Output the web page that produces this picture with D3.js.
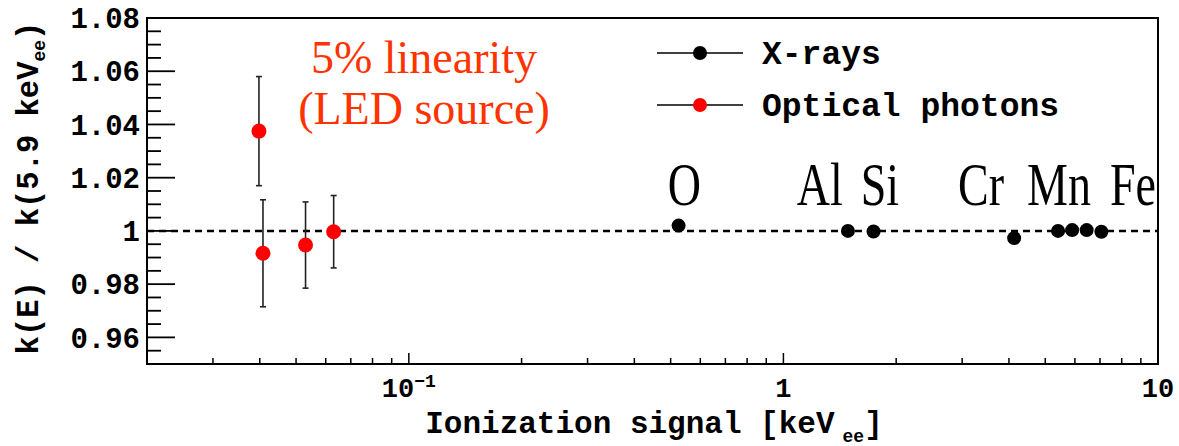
<!DOCTYPE html>
<html lang="en">
<head>
	<meta charset="UTF-8">
	<title>k(E) linearity</title>

	<script src="https://cdn.jsdelivr.net/npm/d3@7"></script>

	<style>
		body {
			margin: 0;
			background: #fff;
		}

		.mono {
			font-family: "Courier New", "Nimbus Mono PS", "FreeMono", "Liberation Mono", monospace;
			font-weight: bold;
		}

		.elem {
			font-family: "Liberation Serif", "DejaVu Serif", serif;
		}

		.note {
			font-family: "Liberation Serif", "DejaVu Serif", serif;
			fill: #ff3300;
		}
	</style>

</head>
<body>

<script type="text/javascript">

	// X-ray lines (black)
	var xrayEnergy = [0.525, 1.487, 1.74, 4.13, 5.41, 5.90, 6.45, 7.06];
	var xrayRatio = [1.002, 1.0, 0.9998, 0.9973, 1.0, 1.0003, 1.0003, 0.9997];

	// LED optical photons (red)
	var ledEnergy = [0.0398, 0.0408, 0.053, 0.063];
	var ledRatio = [1.0375, 0.9916, 0.9947, 0.9997];
	var ledError = [0.0205, 0.0201, 0.0162, 0.0136];

	var elementNames = ['O', 'Al', 'Si', 'Cr', 'Mn', 'Fe'];
	var elementAt = [0.544, 1.25, 1.81, 3.37, 5.44, 8.57];

	var yTicks = [0.96, 0.98, 1, 1.02, 1.04, 1.06, 1.08];
	var xTicks = [0.1, 1, 10];
	var legendNames = ['X-rays', 'Optical photons'];
	var legendColors = ['#000', '#ff0000'];

	var W = 1179, H = 446;
	var margin = {top: 18, bottom: 82, left: 147, right: 21};

	var width = W - margin.left - margin.right;
	var height = H - margin.top - margin.bottom;

	var svg = d3.select('body').append('svg')
		.attr('width', W)
		.attr('height', H)
		.append('g')
		.attr('transform', 'translate(' + margin.left + ',' + margin.top + ')');

	var x = d3.scaleLog()
		.domain([0.02, 10])
		.range([0, width]);

	var y = d3.scaleLinear()
		.domain([0.95, 1.08])
		.range([height, 0]);

	// minor / major ticks
	var yMinor = d3.range(0.955, 1.08, 0.005).filter(function (v) {
		return Math.abs(Math.round(v * 50) - v * 50) > 0.01;
	});
	svg.append('g').selectAll('line.ymin')
		.data(yMinor)
		.enter().append('line')
		.attr('x1', 0).attr('x2', 14)
		.attr('y1', function (d) { return y(d); })
		.attr('y2', function (d) { return y(d); })
		.attr('stroke', '#000').attr('stroke-width', 1.8);

	svg.append('g').selectAll('line.ymaj')
		.data(yTicks)
		.enter().append('line')
		.attr('x1', 0).attr('x2', 28)
		.attr('y1', function (d) { return y(d); })
		.attr('y2', function (d) { return y(d); })
		.attr('stroke', '#000').attr('stroke-width', 1.8);

	var xMinor = [];
	[0.01, 0.1, 1].forEach(function (dec) {
		for (var k = 2; k <= 9; k++) {
			var v = dec * k;
			if (v > 0.02 && v < 10) xMinor.push(v);
		}
	});
	svg.append('g').selectAll('line.xmin')
		.data(xMinor)
		.enter().append('line')
		.attr('x1', function (d) { return x(d); })
		.attr('x2', function (d) { return x(d); })
		.attr('y1', height).attr('y2', height - 6)
		.attr('stroke', '#000').attr('stroke-width', 1.5);

	svg.append('g').selectAll('line.xmaj')
		.data(xTicks)
		.enter().append('line')
		.attr('x1', function (d) { return x(d); })
		.attr('x2', function (d) { return x(d); })
		.attr('y1', height).attr('y2', height - 11)
		.attr('stroke', '#000').attr('stroke-width', 1.5);

	// frame
	svg.append('rect')
		.attr('width', width)
		.attr('height', height)
		.attr('fill', 'none')
		.attr('stroke', '#000')
		.attr('stroke-width', 2);

	// tick labels
	svg.append('g').selectAll('text')
		.data(yTicks)
		.enter().append('text')
		.attr('class', 'mono')
		.attr('x', -7)
		.attr('y', function (d) { return y(d); })
		.attr('dy', '0.35em')
		.attr('text-anchor', 'end')
		.style('font-size', '29px')
		.text(function (d) { return d === 1 ? '1' : d3.format('.2f')(d); });

	var xl = svg.append('g').selectAll('text')
		.data(xTicks)
		.enter().append('text')
		.attr('class', 'mono')
		.attr('x', function (d) { return x(d); })
		.attr('y', 397 - margin.top)
		.attr('text-anchor', 'middle')
		.style('font-size', '27px');
	xl.each(function (d) {
		var t = d3.select(this);
		if (d === 0.1) {
			t.append('tspan').text('10');
			t.append('tspan').attr('dy', -10).style('font-size', '18px').text('\u22121');
		} else {
			t.text(d3.format('d')(d));
		}
	});

	// axis titles
	var xt = svg.append('text')
		.attr('class', 'mono')
		.attr('x', 654 - margin.left)
		.attr('y', 433 - margin.top)
		.attr('text-anchor', 'middle')
		.style('font-size', '31px');
	xt.append('tspan').text('Ionization signal [keV');
	xt.append('tspan').attr('dx', 8).attr('dy', 9).style('font-size', '18px').text('ee');
	xt.append('tspan').attr('dy', -9).text(']');

	var yt = svg.append('text')
		.attr('class', 'mono')
		.attr('transform', 'translate(' + (38 - margin.left) + ',' + (188 - margin.top) + ') rotate(-90)')
		.attr('text-anchor', 'middle')
		.style('font-size', '30.5px');
	yt.append('tspan').text('k(E) / k(5.9 keV');
	yt.append('tspan').attr('dy', 7).style('font-size', '18px').text('ee');
	yt.append('tspan').attr('dy', -7).text(')');

	// reference line at 1
	svg.append('line')
		.attr('x1', 0).attr('x2', width)
		.attr('y1', y(1)).attr('y2', y(1))
		.attr('stroke', '#000')
		.attr('stroke-width', 2.5)
		.attr('stroke-dasharray', '7,5');

	// LED points with error bars
	var led = ledEnergy.map(function (e, i) {
		return {e: e, r: ledRatio[i], err: ledError[i]};
	});

	var bars = svg.append('g').selectAll('g')
		.data(led)
		.enter().append('g');
	bars.append('line')
		.attr('x1', function (d) { return x(d.e); })
		.attr('x2', function (d) { return x(d.e); })
		.attr('y1', function (d) { return y(d.r - d.err); })
		.attr('y2', function (d) { return y(d.r + d.err); })
		.attr('stroke', '#222').attr('stroke-width', 1.6);
	[-1, 1].forEach(function (s) {
		bars.append('line')
			.attr('x1', function (d) { return x(d.e) - 3; })
			.attr('x2', function (d) { return x(d.e) + 3; })
			.attr('y1', function (d) { return y(d.r + s * d.err); })
			.attr('y2', function (d) { return y(d.r + s * d.err); })
			.attr('stroke', '#222').attr('stroke-width', 1.6);
	});
	bars.append('circle')
		.attr('cx', function (d) { return x(d.e); })
		.attr('cy', function (d) { return y(d.r); })
		.attr('r', 7.5)
		.style('fill', '#ff0000');

	// X-ray points
	svg.append('g').selectAll('circle')
		.data(xrayEnergy)
		.enter().append('circle')
		.attr('cx', function (d) { return x(d); })
		.attr('cy', function (d, i) { return y(xrayRatio[i]); })
		.attr('r', 7)
		.style('fill', '#000');

	// element labels
	svg.append('g').selectAll('text')
		.data(elementNames)
		.enter().append('text')
		.attr('class', 'elem')
		.attr('text-anchor', 'middle')
		.attr('transform', function (d, i) {
			return 'translate(' + x(elementAt[i]) + ',' + (205 - margin.top) + ') scale(1,1.35)';
		})
		.style('font-size', '46px')
		.text(function (d) { return d; });

	// annotation
	var note = svg.append('text')
		.attr('class', 'note')
		.attr('text-anchor', 'middle')
		.style('font-size', '46px');
	note.append('tspan').attr('x', 424 - margin.left).attr('y', 73 - margin.top).text('5% linearity');
	note.append('tspan').attr('x', 424 - margin.left).attr('y', 124 - margin.top).text('(LED source)');

	// legend
	var leg = svg.append('g').selectAll('g')
		.data(legendNames)
		.enter().append('g')
		.attr('transform', function (d, i) {
			return 'translate(' + (657 - margin.left) + ',' + (53 + i * 52 - margin.top) + ')';
		});
	leg.append('line')
		.attr('x1', 0).attr('x2', 86)
		.attr('stroke', '#000').attr('stroke-width', 1.5);
	leg.append('circle')
		.attr('cx', 43)
		.attr('r', 7)
		.style('fill', function (d, i) { return legendColors[i]; });
	leg.append('text')
		.attr('class', 'mono')
		.attr('x', 105)
		.attr('y', 11)
		.style('font-size', '33px')
		.text(function (d) { return d; });

</script>

</body>
</html>
